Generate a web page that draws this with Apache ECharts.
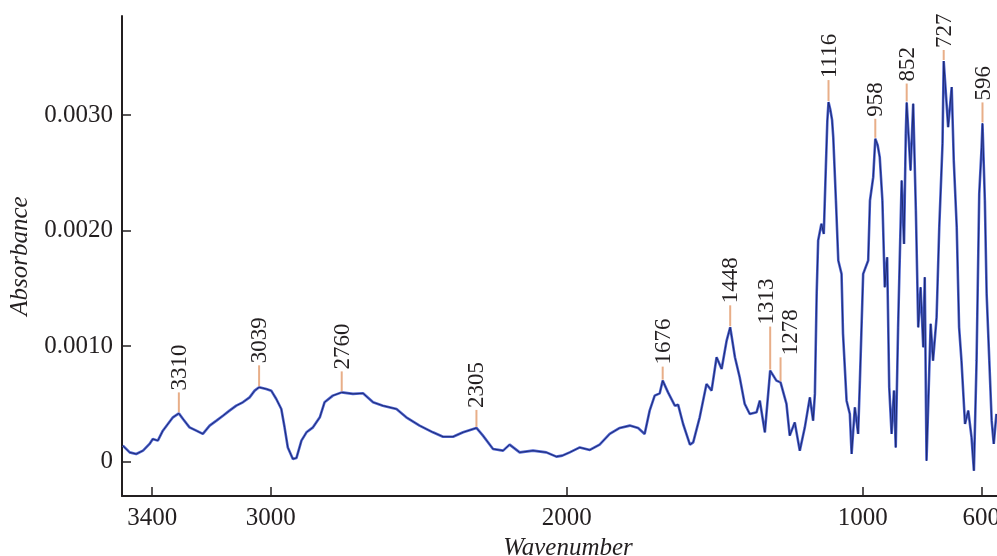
<!DOCTYPE html>
<html><head><meta charset="utf-8">
<script src="https://cdn.jsdelivr.net/npm/echarts@6/dist/echarts.min.js"></script>
<style>html,body{margin:0;padding:0;background:#fff}#c{width:997px;height:556px}</style>
</head><body><div id="c"></div>
<script>
const wavenumber = [3499,3476,3454,3431,3409,3398,3381,3364,3347,3330,3310,3296,3274,3251,3229,3206,3183,3161,3139,3116,3094,3071,3054,3039,3015,2998,2981,2964,2953,2942,2925,2913,2896,2879,2857,2834,2818,2790,2760,2722,2688,2654,2621,2575,2542,2497,2452,2418,2384,2350,2305,2283,2249,2215,2193,2159,2114,2069,2035,2015,1990,1956,1922,1889,1855,1821,1787,1759,1737,1720,1703,1686,1676,1658,1635,1624,1607,1584,1573,1551,1528,1511,1494,1477,1460,1448,1432,1416,1399,1382,1359,1348,1331,1313,1292,1278,1258,1247,1230,1213,1196,1179,1168,1162,1156,1151,1140,1132,1125,1120,1116,1110,1104,1100,1091,1083,1072,1067,1055,1044,1038,1027,1016,1010,999,982,976,965,958,950,943,934,926,918,911,903,895,889,881,869,861,855,852,839,830,821,813,805,796,791,785,771,763,751,742,731,727,712,700,693,683,675,667,655,644,633,625,616,607,599,596,588,582,573,565,558,549];
const absorbance = [0.000136,0.000078,0.000064,0.000093,0.000151,0.000194,0.00018,0.000266,0.000324,0.000382,0.000416,0.000368,0.000295,0.000266,0.000238,0.00031,0.000353,0.000396,0.00044,0.000483,0.000512,0.000555,0.000613,0.000642,0.000628,0.000613,0.000541,0.000454,0.000295,0.000121,0.000021,0.000029,0.00018,0.000252,0.000295,0.000382,0.000512,0.00057,0.000598,0.000585,0.00059,0.000512,0.000483,0.000454,0.000382,0.00031,0.000252,0.000214,0.000214,0.000252,0.00029,0.000223,0.000108,0.000093,0.000145,0.000078,0.000093,0.000078,0.000041,0.00005,0.000078,0.000121,0.000099,0.000145,0.000238,0.00029,0.00031,0.00029,0.000238,0.00044,0.00057,0.00059,0.0007,0.000598,0.000483,0.000492,0.000324,0.000145,0.000165,0.000382,0.000671,0.000613,0.000902,0.000801,0.001047,0.001162,0.000902,0.000729,0.000498,0.000411,0.000425,0.000526,0.000252,0.000787,0.0007,0.000685,0.000498,0.000223,0.000338,0.000093,0.000295,0.000555,0.000353,0.000585,0.001452,0.001914,0.002059,0.001972,0.00255,0.00295,0.003114,0.00305,0.00296,0.00281,0.002261,0.001741,0.001625,0.001105,0.000526,0.000411,0.000064,0.000468,0.000238,0.0007,0.001625,0.001741,0.002261,0.002463,0.002796,0.00274,0.002637,0.002261,0.001509,0.001769,0.000642,0.000238,0.000613,0.000121,0.001162,0.002434,0.001885,0.00284,0.00311,0.002521,0.0031,0.002174,0.001162,0.001509,0.000989,0.001596,0.000006,0.001192,0.000873,0.001249,0.002029,0.002753,0.00347,0.002897,0.003244,0.002608,0.002029,0.001162,0.000873,0.000324,0.00044,0.000208,-0.000081,0.000873,0.002319,0.002723,0.002929,0.002261,0.001452,0.000873,0.000353,0.000151,0.000411];
const peakLabels = ['3310','3039','2760','2305','1676','1448','1313','1278','1116','958','852','727','596'];
const peakWavenumber = [3310,3039,2760,2305,1676,1448,1313,1278,1116,958,852,727,596];
const peakAbsorbance = [0.000416,0.000642,0.000598,0.00029,0.0007,0.001162,0.000787,0.000685,0.003114,0.002796,0.00311,0.00347,0.002929];
const xTickValues = [3400,3000,2000,1000,600];
const yTickValues = [0,0.001,0.002,0.003];

// style: length of the marker stem above each peak and sideways nudge of its text (px)
const stemLength = {'3310':21,'3039':22,'2760':21,'2305':18,'1676':14,'1448':22,'1313':44,'1278':25,'1116':22,'958':20,'852':19,'727':11,'596':21};
const textNudge = {'1313':-4,'1278':9};

const FONT = '"Liberation Serif", "Times New Roman", serif';
const INK = '#231f20';
const lineData = wavenumber.map((w, i) => [w, absorbance[i]]);
const peakData = peakWavenumber.map((w, i) => [w, peakAbsorbance[i]]);

const chart = echarts.init(document.getElementById('c'), null, {renderer: 'canvas'});
chart.setOption({
  animation: false,
  backgroundColor: '#fff',
  grid: {left: 122, right: 0, top: 16, bottom: 60, containLabel: false, outerBoundsMode: 'none'},
  xAxis: {
    type: 'value', inverse: true, min: 547, max: 3502,
    name: 'Wavenumber', nameLocation: 'middle', nameGap: 35,
    nameTextStyle: {fontFamily: FONT, fontStyle: 'italic', fontSize: 25, color: INK, padding: [0, 0, 0, 17]},
    axisLine: {show: true, onZero: false, lineStyle: {color: INK, width: 2}},
    axisTick: {show: true, inside: true, length: 9, customValues: xTickValues, lineStyle: {color: INK, width: 1.5}},
    axisLabel: {show: true, customValues: xTickValues, margin: 10, fontFamily: FONT, fontSize: 25, color: INK,
      formatter: v => String(Math.round(v))},
    splitLine: {show: false}
  },
  yAxis: {
    type: 'value', min: -0.0003, max: 0.00386,
    name: 'Absorbance', nameLocation: 'middle', nameGap: 80,
    nameTextStyle: {fontFamily: FONT, fontStyle: 'italic', fontSize: 25, color: INK},
    axisLine: {show: true, onZero: false, lineStyle: {color: INK, width: 2}},
    axisTick: {show: true, inside: true, length: 9, customValues: yTickValues, lineStyle: {color: INK, width: 1.5}},
    axisLabel: {show: true, customValues: yTickValues, margin: 9, fontFamily: FONT, fontSize: 25, color: INK,
      formatter: v => (Math.abs(v) < 1e-12 ? '0' : v.toFixed(4))},
    splitLine: {show: false}
  },
  series: [
    {
      type: 'line', data: lineData, showSymbol: false, symbol: 'none', smooth: false,
      lineStyle: {color: '#4d63cf', width: 2.6}, z: 2, silent: true
    },
    {
      type: 'line', data: lineData, showSymbol: false, symbol: 'none', smooth: false,
      lineStyle: {color: '#1d2a74', width: 1}, z: 3, silent: true
    },
    {
      type: 'custom', data: peakData, z: 4, clip: false, silent: true,
      encode: {x: 0, y: 1},
      renderItem: function (params, api) {
        const p = api.coord([api.value(0), api.value(1)]);
        const lbl = peakLabels[params.dataIndex];
        const len = stemLength[lbl] || 20;
        const dx = textNudge[lbl] || 0;
        return {
          type: 'group',
          children: [
            {type: 'line', shape: {x1: p[0], y1: p[1] - 1, x2: p[0], y2: p[1] - len}, style: {stroke: '#e8ae88', lineWidth: 2}},
            {type: 'text', x: p[0] + 1 + dx, y: p[1] - len - 2, rotation: Math.PI / 2,
             style: {text: lbl, font: '23px ' + FONT, fill: INK, align: 'left', verticalAlign: 'middle'}}
          ]
        };
      }
    }
  ]
});
</script>
</body></html>
